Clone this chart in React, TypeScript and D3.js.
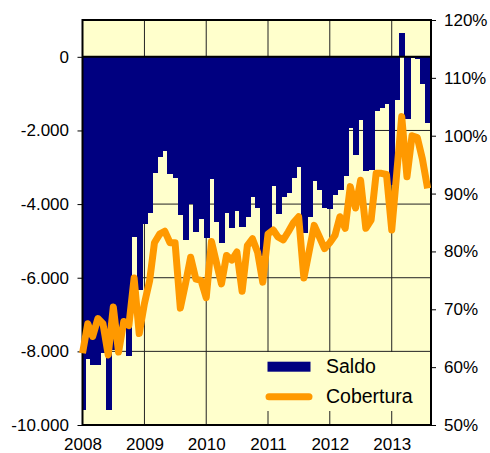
import React, { useEffect, useRef } from 'react';
import * as d3 from 'd3';

// monthly data, Jan 2008 - Aug 2013
const startYear = 2008;
const yearTicks = [2008, 2009, 2010, 2011, 2012, 2013];
const saldoTicks = [0, -2000, -4000, -6000, -8000, -10000];
const coberturaTicks = [50, 60, 70, 80, 90, 100, 110, 120];

const saldo = [
    -9600, -8200, -8360, -8360, -8050, -9580, -7950, -7400, -7130, -8130, -4890, -6340,
    -4540, -4230, -3160, -2720, -2570, -3180, -3300, -4300, -4980, -4000, -4750, -4400,
    -4920, -3310, -4490, -5050, -4230, -4650, -4190, -4630, -4340, -3800, -4100, -5400,
    -4800, -3500, -4270, -3800, -3700, -3290, -3000, -4790, -4340, -3360, -3610, -4100,
    -4140, -3750, -3610, -3250, -1940, -2660, -1710, -3110, -3070, -1480, -1380, -1280,
    -3480, -1160, 650, -1700, -30, -70, -750, -1800
];

const cobertura = [
    62.4, 67.5, 65.3, 68.4, 67.5, 62.1, 70.4, 62.6, 67.9, 67.2, 75.4, 65.8,
    71, 75, 81.5, 83, 83.5, 81.5, 81.5, 70.2, 74.5, 79, 75.2, 75,
    72, 81.7, 78.2, 74.4, 79.3, 78.5, 79.9, 73.1, 81, 82.2, 79.8, 74.7,
    83, 83.7, 82.5, 82, 83.4, 85, 86, 75.4, 80, 84.5, 82.5, 80.5,
    81.5, 82.8, 86, 84, 91.2, 87.5, 92.3, 84, 85.4, 93.5, 93.5, 93.3,
    83.7, 94, 103.3, 92.9, 100, 99.7, 96, 90.9
];

const months = saldo.map((_, i) => new Date(startYear, i, 1));

const App = () => {
    const svgRef = useRef<SVGSVGElement>(null);

    useEffect(() => {
        const margin = { top: 20, right: 59, bottom: 28, left: 82.5 },
            width = 490 - margin.left - margin.right,
            height = 453 - margin.top - margin.bottom;
        const font = 'Liberation Sans, Arial, sans-serif';
        const navy = '#000080', orange = '#FF9900', bg = '#FFFFCC';

        const root = d3.select(svgRef.current);
        root.selectAll('*').remove();
        const svg = root.append('g').attr('transform', `translate(${margin.left},${margin.top})`);

        const x = d3.scaleTime()
            .domain([new Date(2008, 0, 1), new Date(2013, 7, 21)])
            .range([0, width]);
        const yL = d3.scaleLinear().domain([-10000, 1000]).range([height, 0]);
        const yR = d3.scaleLinear().domain([50, 120]).range([height, 0]);

        svg.append('clipPath').attr('id', 'plot-clip')
            .append('rect').attr('width', width).attr('height', height);

        svg.append('rect').attr('width', width).attr('height', height).attr('fill', bg);

        // grid lines (behind the bars)
        svg.selectAll('.hgrid')
            .data(saldoTicks.filter((d) => d !== 0 && d !== -10000))
            .enter().append('line')
            .attr('x1', 0).attr('x2', width)
            .attr('y1', (d) => yL(d)).attr('y2', (d) => yL(d))
            .attr('stroke', '#222').attr('stroke-width', 1);

        svg.selectAll('.vgrid')
            .data(yearTicks.slice(1))
            .enter().append('line')
            .attr('x1', (d) => x(new Date(d, 0, 1))).attr('x2', (d) => x(new Date(d, 0, 1)))
            .attr('y1', 0).attr('y2', height)
            .attr('stroke', '#222').attr('stroke-width', 1);

        // bars centred on each month, edges half-way between months
        const xs = months.map((m) => x(m));
        const last = xs.length - 1;
        const leftEdge = (i) => (i === 0 ? xs[0] - (xs[1] - xs[0]) / 2 : (xs[i] + xs[i - 1]) / 2);
        const rightEdge = (i) => (i === last ? xs[i] + (xs[i] - xs[i - 1]) / 2 : (xs[i] + xs[i + 1]) / 2);
        svg.append('g').attr('clip-path', 'url(#plot-clip)')
            .attr('shape-rendering', 'crispEdges')
            .selectAll('rect')
            .data(saldo)
            .enter().append('rect')
            .attr('x', (d, i) => leftEdge(i))
            .attr('width', (d, i) => rightEdge(i) - leftEdge(i) + 1)
            .attr('y', (d) => yL(Math.max(0, d)))
            .attr('height', (d) => Math.abs(yL(d) - yL(0)))
            .attr('fill', navy);

        // zero line
        svg.append('line')
            .attr('x1', 0).attr('x2', width)
            .attr('y1', yL(0)).attr('y2', yL(0))
            .attr('stroke', '#000').attr('stroke-width', 2);

        // legend
        const leg = svg.append('g').attr('transform', `translate(${258 - margin.left},${352 - margin.top})`);
        leg.append('rect').attr('width', 170).attr('height', 59).attr('fill', bg);
        leg.append('rect').attr('x', 9.5).attr('y', 9.7).attr('width', 43).attr('height', 10).attr('fill', navy);
        leg.append('line').attr('x1', 11).attr('x2', 51).attr('y1', 44.7).attr('y2', 44.7)
            .attr('stroke', orange).attr('stroke-width', 7).attr('stroke-linecap', 'round');
        leg.append('text').attr('x', 68).attr('y', 20.7).text('Saldo')
            .attr('font-family', font).attr('font-size', 19.5).attr('fill', '#000');
        leg.append('text').attr('x', 68).attr('y', 50.7).text('Cobertura')
            .attr('font-family', font).attr('font-size', 19.5).attr('fill', '#000');

        // plot border
        svg.append('rect').attr('width', width).attr('height', height)
            .attr('fill', 'none').attr('stroke', '#000').attr('stroke-width', 2);

        // axes
        const locale = d3.formatLocale({ decimal: ',', thousands: '.', grouping: [3], currency: ['', ''], minus: '-' });
        const fmt = locale.format(',');

        const styleAxis = (g) => {
            g.attr('font-family', font).attr('font-size', 17);
            g.select('.domain').remove();
            g.selectAll('.tick line').attr('stroke', '#000');
            g.selectAll('.tick text').attr('fill', '#000');
        };

        svg.append('g')
            .call(d3.axisLeft(yL).tickValues(saldoTicks).tickSize(5).tickPadding(8.5).tickFormat((d) => fmt(d)))
            .call(styleAxis);

        svg.append('g')
            .attr('transform', `translate(${width},0)`)
            .call(d3.axisRight(yR).tickValues(coberturaTicks).tickSize(5).tickPadding(8).tickFormat((d) => `${d}%`))
            .call(styleAxis);

        svg.append('g')
            .attr('transform', `translate(0,${height})`)
            .call(d3.axisBottom(x).tickValues(yearTicks.map((y) => new Date(y, 0, 1))).tickSize(0).tickPadding(12.5)
                .tickFormat((d) => d3.timeFormat('%Y')(d)))
            .call(styleAxis);

        // cobertura line
        const line = d3.line<number>()
            .x((d, i) => xs[i])
            .y((d) => yR(d));
        svg.append('path')
            .datum(cobertura)
            .attr('d', line)
            .attr('fill', 'none')
            .attr('stroke', orange)
            .attr('stroke-width', 7)
            .attr('stroke-linejoin', 'round');
    }, []);

    return (
        <svg ref={svgRef} width={490} height={453}
            style={{ position: 'absolute', left: 0, top: 0, background: '#fff' }} />
    );
};

export default App;
